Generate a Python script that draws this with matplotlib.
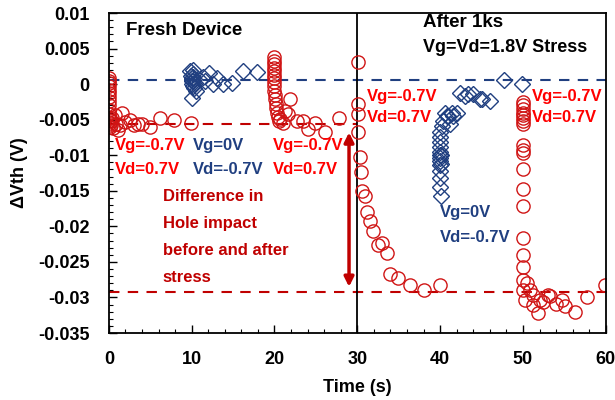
import matplotlib.pyplot as plt
from matplotlib.ticker import MultipleLocator

plt.rcParams['font.family'] = ['Liberation Sans', 'DejaVu Sans']
plt.rcParams['font.weight'] = 'bold'
plt.rcParams['axes.labelweight'] = 'bold'

# fresh device, Vg=-0.7V Vd=0.7V (0-10 s)
red1_t = [0, 0, 0, 0, 0, 0, 0, 0, 0, 0, 0, 0.05, 0.1, 0.1, 0.15, 0.2, 0.3, 0.4, 0.5, 0.7, 0.9,
          1.1, 1.3, 1.6, 2.0, 2.5, 3.0, 3.5, 4.0, 5.0, 6.2, 7.9, 9.9]
red1_v = [0.0008, 0.0005, 0.0002, -0.0003, -0.0008, -0.0013, -0.0018, -0.0024, -0.003, -0.0036,
          -0.0042, -0.0047, -0.0051, -0.0055, -0.006, -0.0052, -0.0058, -0.0048, -0.0062, -0.0044,
          -0.0056, -0.0064, -0.0058, -0.0041, -0.0053, -0.005, -0.0058, -0.0056, -0.0056, -0.006,
          -0.0047, -0.005, -0.0054]
red1_t = red1_t[:len(red1_v)]

# fresh device, Vg=0V Vd=-0.7V (10-20 s)
blue1_t = [9.8, 9.9, 10.0, 10.0, 10.0, 10.1, 10.1, 10.2, 10.2, 10.3, 10.3, 10.4, 10.5, 10.0,
           10.2, 11.4, 11.6, 12.1, 12.6, 13.0, 13.8, 14.9, 16.2, 17.9]
blue1_v = [0.0018, 0.0012, 0.0008, 0.0004, 0.0, 0.0010, 0.0005, 0.0014, -0.0003, 0.0007, -0.0006,
           0.0002, -0.0009, -0.002, 0.002, 0.001, 0.0004, 0.0016, 0.0, 0.0008, 0.0, 0.0001, 0.0018,
           0.0017]

# fresh device, Vg=-0.7V Vd=0.7V (20-30 s)
red2_t = [20, 20, 20, 20, 20, 20, 20, 20, 20, 20, 20.1, 20.1, 20.2, 20.2, 20.3, 20.4, 20.5,
          20.7, 21.0, 21.3, 21.6, 21.9, 22.7, 23.5, 24.1, 24.9, 26.1, 27.8]
red2_v = [0.0038, 0.0033, 0.0028, 0.0023, 0.0018, 0.0013, 0.0008, 0.0003, -0.0003, -0.0009,
          -0.0015, -0.0021, -0.0028, -0.0034, -0.004, -0.0046, -0.0052, -0.0049, -0.0055,
          -0.0038, -0.0042, -0.0021, -0.0052, -0.0052, -0.0063, -0.0055, -0.0068, -0.0047]

# after stress, Vg=-0.7V Vd=0.7V (30-40 s)
red3_t = [30.1, 30.1, 30.1, 30.1, 30.3, 30.5, 30.6, 30.9, 31.2, 31.5, 31.9, 32.5, 33.0, 33.6,
          33.9, 34.9, 36.4, 38.0, 40.0]
red3_v = [0.0031, -0.0028, -0.0042, -0.0068, -0.0102, -0.0124, -0.0151, -0.0158, -0.018, -0.0193,
          -0.0207, -0.0226, -0.0223, -0.0237, -0.0267, -0.0272, -0.0282, -0.029, -0.0282]

# after stress, Vg=0V Vd=-0.7V (40-50 s)
blue2_t = [40.0, 40.0, 40.0, 40.0, 40.0, 40.0, 40.0, 40.0, 40.0, 40.0, 40.0, 40.0, 40.1, 40.1,
           40.1, 40.2, 40.4, 40.6, 40.8, 41.0, 41.2, 41.4, 41.6, 42.0, 42.4, 43.0, 43.4, 44.0,
           44.8, 45.0, 46.0, 47.7, 49.9]
blue2_v = [-0.0068, -0.0075, -0.0082, -0.0089, -0.0095, -0.0100, -0.0104, -0.0108, -0.0114,
           -0.0122, -0.0132, -0.0145, -0.0158, -0.0099, -0.0112, -0.0059, -0.0052, -0.004,
           -0.0045, -0.0045, -0.0056, -0.004, -0.0045, -0.004, -0.0013, -0.0017, -0.0014,
           -0.0014, -0.0021, -0.0021, -0.0024, 0.0006, 0.0]

# after stress, Vg=-0.7V Vd=0.7V (50-60 s)
red4_t = [50, 50, 50, 50, 50, 50, 50, 50, 50, 50, 50, 50, 50, 50, 50, 50, 50, 50, 50, 50.3,
          50.5, 50.8, 51.2, 51.2, 51.8, 52.0, 52.4, 53.0, 53.3, 54.0, 54.7, 55.1, 56.3, 57.7,
          59.9]
red4_v = [-0.0025, -0.003, -0.0035, -0.004, -0.0044, -0.0048, -0.0052, -0.0056, -0.0085,
          -0.0092, -0.0097, -0.012, -0.0148, -0.0172, -0.0216, -0.024, -0.0257, -0.0275,
          -0.0289, -0.0303, -0.0279, -0.0289, -0.0296, -0.031, -0.0322, -0.0303, -0.0307,
          -0.0296, -0.0298, -0.0309, -0.0303, -0.0312, -0.032, -0.0299, -0.0282]

blue_ref = 0.0006
fresh_ref = -0.0056
stress_ref = -0.0293

red = '#D01515'
dred = '#C00000'
navy = '#203F80'
bold = 'bold'

fig, ax = plt.subplots(figsize=(6.15, 4.0), dpi=100)
fig.subplots_adjust(left=0.177, right=0.985, bottom=0.1675, top=0.9675)

circ = dict(marker='o', ms=9.5, mfc='none', mec=red, mew=1.0, ls='none')
diam = dict(marker='D', ms=8, mfc='none', mec=navy, mew=1.0, ls='none')

ax.axhline(blue_ref, color=navy, ls=(0, (5, 4)), lw=1.5, zorder=1)
ax.plot([0, 30], [fresh_ref, fresh_ref], color=dred, ls=(0, (5, 4)), lw=1.5, zorder=1)
ax.axhline(stress_ref, color=dred, ls=(0, (5, 4)), lw=1.5, zorder=1)
ax.axvline(30, color='black', lw=1.3, zorder=1)

for t, v in [(red1_t, red1_v), (red2_t, red2_v), (red3_t, red3_v), (red4_t, red4_v)]:
    ax.plot(t, v, **circ)
for t, v in [(blue1_t, blue1_v), (blue2_t, blue2_v)]:
    ax.plot(t, v, **diam)

ax.annotate('', xy=(29, stress_ref + 0.0004), xytext=(29, fresh_ref - 0.0008),
            arrowprops=dict(arrowstyle='<|-|>', color=dred, lw=2.5, mutation_scale=14))

hs = 13.5
ax.text(2.05, 0.0075, 'Fresh Device', fontsize=hs, fontweight=bold, ha='left', va='center')
ax.text(37.9, 0.0087, 'After 1ks', fontsize=hs, fontweight=bold, ha='left', va='center')
ax.text(37.9, 0.0052, 'Vg=Vd=1.8V Stress', fontsize=13, fontweight=bold, ha='left', va='center')

fs = 12
labels = [(0.7, 'Vg=-0.7V', 'Vd=0.7V', -0.0087, -0.0120, 'red'),
          (10.1, 'Vg=0V', 'Vd=-0.7V', -0.0087, -0.0120, navy),
          (19.8, 'Vg=-0.7V', 'Vd=0.7V', -0.0087, -0.0120, 'red'),
          (31.2, 'Vg=-0.7V', 'Vd=0.7V', -0.0017, -0.0047, 'red'),
          (40.0, 'Vg=0V', 'Vd=-0.7V', -0.0180, -0.0216, navy),
          (51.1, 'Vg=-0.7V', 'Vd=0.7V', -0.0017, -0.0047, 'red')]
for x, l1, l2, y1, y2, c in labels:
    ax.text(x, y1, l1, fontsize=fs, fontweight=bold, color=c, ha='left', va='center')
    ax.text(x, y2, l2, fontsize=fs, fontweight=bold, color=c, ha='left', va='center')

for i, s in enumerate(['Difference in', 'Hole impact', 'before and after', 'stress']):
    ax.text(6.5, -0.0158 - i * 0.0038, s, fontsize=fs, fontweight=bold, color=dred,
            ha='left', va='center')

ax.set_xlim(0, 60)
ax.set_ylim(-0.035, 0.01)
ax.xaxis.set_major_locator(MultipleLocator(10))
ax.xaxis.set_minor_locator(MultipleLocator(2))
ax.yaxis.set_minor_locator(MultipleLocator(0.001))
ax.set_yticks([0.01, 0.005, 0, -0.005, -0.01, -0.015, -0.02, -0.025, -0.03, -0.035])
ax.set_yticklabels(['0.01', '0.005', '0', '-0.005', '-0.01', '-0.015', '-0.02', '-0.025',
                    '-0.03', '-0.035'], fontweight=bold)
for lab in ax.get_xticklabels():
    lab.set_fontweight(bold)
ax.tick_params(which='major', direction='in', length=6, width=1, labelsize=13)
ax.tick_params(axis='y', which='major', pad=14)
ax.tick_params(axis='x', which='major', pad=13)
ax.tick_params(which='minor', direction='in', length=3, width=0.8)
for sp in ax.spines.values():
    sp.set_linewidth(1.3)
ax.set_xlabel('Time (s)', fontsize=13, fontweight=bold, labelpad=8)
ax.set_ylabel('ΔVth (V)', fontsize=13, fontweight=bold, labelpad=7)

fig.savefig('out.png', dpi=100)
